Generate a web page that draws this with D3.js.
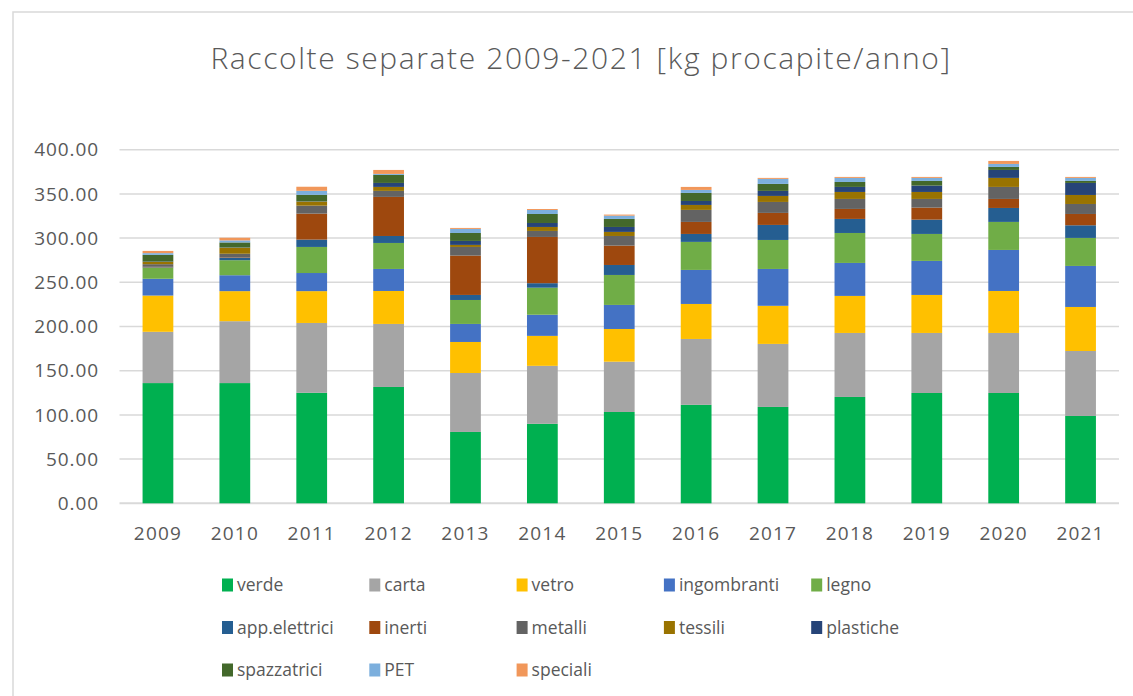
<!DOCTYPE html>
<html>
<head>
<meta charset="utf-8">
<script src="https://cdn.jsdelivr.net/npm/d3@7"></script>
<style>
  body { margin: 0; background: #fff; }
  svg { display: block; font-family: "Open Sans", sans-serif; }
</style>
</head>
<body>
<div id="chart"></div>
<script>
// anni
const years = ["2009","2010","2011","2012","2013","2014","2015","2016","2017","2018","2019","2020","2021"];

// serie (kg procapite/anno)
const verde       = [136, 136, 125, 131.6, 80.7, 89.9, 103.3, 111.4, 109, 120.3, 124.8, 124.8, 98.8];
const carta       = [58, 70, 79, 71.3, 66.7, 65.6, 56.9, 74.5, 71.3, 72.4, 67.9, 67.9, 73.5];
const vetro       = [41, 34, 36, 37.3, 35.1, 33.9, 37, 39.6, 43.1, 41.9, 43, 47.5, 49.8];
const ingombranti = [19, 18, 20.5, 24.9, 20.4, 23.9, 27.2, 38.5, 41.7, 37.3, 38.5, 46.4, 46.4];
const legno       = [12.5, 17, 29.5, 29.4, 27.1, 30.6, 33.9, 31.7, 32.8, 33.9, 30.5, 31.7, 31.7];
const appElettrici= [0.5, 3, 8.3, 7.9, 5.7, 5.1, 11.3, 9, 17, 15.9, 16.2, 15.8, 14.3];
const inerti      = [0.5, 0.5, 29.4, 44.2, 44.5, 52.3, 21.9, 13.6, 13.6, 11.3, 13.6, 10.2, 12.8];
const metalli     = [3, 3.8, 9, 6.8, 9.8, 6.8, 10.9, 13.6, 12.4, 11.3, 9.8, 13.6, 11.3];
const tessili     = [2.5, 6.8, 4.6, 4.5, 2.3, 4.5, 4.6, 5.6, 6.8, 7.9, 7.9, 10.2, 10.2];
const plastiche   = [0.5, 0.3, 0.3, 4.5, 4.5, 4.5, 5.6, 4.5, 5.7, 5.7, 7.2, 9, 13.6];
const spazzatrici = [7.5, 5.7, 7.3, 9.1, 9, 10.2, 9.1, 9.1, 7.9, 5.6, 5.3, 3.4, 2.3];
const pet         = [2, 2.3, 4.6, 1.1, 4.6, 4.5, 3.7, 3.4, 5.7, 4.6, 3.4, 3.4, 3.4];
const speciali    = [2.5, 3, 4.6, 4.5, 1.1, 1.1, 1.2, 3.4, 1.1, 1.1, 1.1, 3.4, 1.1];

const seriesNames = ["verde","carta","vetro","ingombranti","legno","app.elettrici","inerti","metalli","tessili","plastiche","spazzatrici","PET","speciali"];
const seriesValues = [verde, carta, vetro, ingombranti, legno, appElettrici, inerti, metalli, tessili, plastiche, spazzatrici, pet, speciali];
const colors = ["#00B050","#A5A5A5","#FFC000","#4472C4","#70AD47","#255E91","#9E480E","#636363","#997300","#264478","#43682B","#7CAFDD","#F1975A"];

const yTicks = [0, 50, 100, 150, 200, 250, 300, 350, 400];

const width = 1133, height = 696;
const margin = { top: 150, right: 14, bottom: 193, left: 119.5 };

const svg = d3.select("#chart")
  .append("svg")
  .attr("width", width)
  .attr("height", height);

// cornice
svg.append("rect")
  .attr("x", 13).attr("y", 12)
  .attr("width", 1130).attr("height", 700)
  .attr("fill", "none")
  .attr("stroke", "#d9d9d9")
  .attr("stroke-width", 1.5);

// tabella per lo stack
const table = years.map((y, i) => {
  const row = { anno: y };
  seriesNames.forEach((n, k) => row[n] = seriesValues[k][i]);
  return row;
});
const stacked = d3.stack().keys(seriesNames)(table);

// scale
const x = d3.scaleBand()
  .domain(years)
  .range([margin.left, width - margin.right])
  .paddingInner(0.6)
  .paddingOuter(0.3);

const y = d3.scaleLinear()
  .domain([0, 400])
  .range([503.3, 149.7]);

// griglia
svg.append("g")
  .selectAll("line")
  .data(yTicks)
  .join("line")
  .attr("x1", margin.left)
  .attr("x2", width - margin.right)
  .attr("y1", d => y(d))
  .attr("y2", d => y(d))
  .attr("stroke", "#d9d9d9")
  .attr("stroke-width", d => d === 0 ? 2 : 1.5);

// etichette asse y
svg.append("g")
  .selectAll("text")
  .data(yTicks)
  .join("text")
  .attr("x", 99)
  .attr("y", d => y(d))
  .attr("dy", "0.35em")
  .attr("text-anchor", "end")
  .attr("fill", "#595959")
  .style("font-size", "19px")
  .style("letter-spacing", "0.9px")
  .text(d => d3.format(".2f")(d));

// barre
svg.append("g")
  .selectAll("g")
  .data(stacked)
  .join("g")
  .attr("fill", (d, i) => colors[i])
  .selectAll("rect")
  .data(d => d)
  .join("rect")
  .attr("x", d => x(d.data.anno))
  .attr("y", d => y(d[1]))
  .attr("width", x.bandwidth())
  .attr("height", d => y(d[0]) - y(d[1]));

// asse x
const xAxis = svg.append("g")
  .attr("transform", `translate(0, ${y(0)})`)
  .call(d3.axisBottom(x).tickSize(0).tickPadding(23));
xAxis.select(".domain").remove();
xAxis.selectAll("text")
  .attr("fill", "#595959")
  .style("font-family", "Open Sans, sans-serif")
  .style("font-size", "19px")
  .style("letter-spacing", "1.2px");

// titolo
svg.append("text")
  .attr("x", 581)
  .attr("y", 69)
  .attr("text-anchor", "middle")
  .attr("fill", "#595959")
  .style("font-size", "30px")
  .style("font-weight", "300")
  .style("letter-spacing", "1.6px")
  .text("Raccolte separate 2009-2021 [kg procapite/anno]");

// legenda
const legend = svg.append("g")
  .selectAll("g")
  .data(seriesNames)
  .join("g")
  .attr("transform", (d, i) => `translate(${222 + (i % 5) * 147.3}, ${585 + Math.floor(i / 5) * 42.5})`);

legend.append("rect")
  .attr("x", 0).attr("y", -6.5)
  .attr("width", 11).attr("height", 13)
  .attr("fill", (d, i) => colors[i]);

legend.append("text")
  .attr("x", 15)
  .attr("y", 0)
  .attr("dy", "0.35em")
  .attr("fill", "#595959")
  .style("font-size", "17.5px")
  .text(d => d);
</script>
</body>
</html>
